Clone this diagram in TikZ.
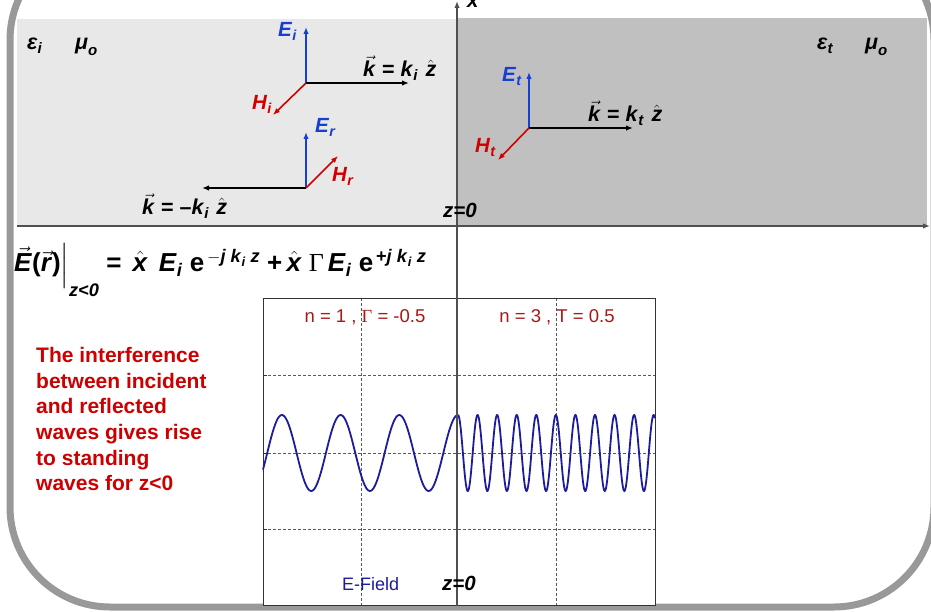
\documentclass[tikz,border=0pt]{standalone}
\usepackage{amsmath}
\usepackage{fontspec}
\setmainfont{Liberation Sans}
\newfontfamily\serifg{Liberation Serif}
\usetikzlibrary{arrows.meta}
\definecolor{frameg}{HTML}{999999}
\definecolor{lightband}{HTML}{E8E8E8}
\definecolor{darkband}{HTML}{C0C0C0}
\definecolor{eblue}{HTML}{1740D0}
\definecolor{hred}{HTML}{D00000}
\definecolor{txtred}{HTML}{CC0000}
\definecolor{plotred}{HTML}{A81818}
\definecolor{navyw}{HTML}{1C1C9C}
\definecolor{axisg}{HTML}{505050}
\newcommand\bi[1]{\textbf{\textit{#1}}}
\newcommand\mbi[1]{\text{\bi{#1}}}
\newcommand\beq{\text{\bfseries =}}
\newcommand\bplus{\text{\bfseries +}}
\begin{document}
\begin{tikzpicture}[x=1pt,y=-1pt,
  lbl/.style={inner sep=0pt, anchor=base west, font=\fontsize{20.5}{22}\selectfont},
  klbl/.style={inner sep=0pt, anchor=base west, font=\fontsize{21.5}{22}\selectfont},
  vecarrow/.style={line width=1.6pt, -{Latex[length=7pt,width=5.5pt]}},
  axisline/.style={axisg, line width=1.8pt, -{Latex[length=7pt,width=5.5pt]}},
  gridline/.style={black!65, line width=0.6pt, dash pattern=on 2.5pt off 2.5pt},
  plotlbl/.style={inner sep=0pt, anchor=base, font=\fontsize{18.5}{22}\selectfont}]
\useasboundingbox (0,0) rectangle (931,612);
\clip (0,0) rectangle (931,612);
% bands
\fill[lightband] (17,19) rectangle (457,226);
\fill[darkband] (457,18) rectangle (927,226);
% frame
\draw[frameg, line width=7pt, rounded corners=100pt] (10,-60) rectangle (934,607);
% plot box
\fill[white] (263,298) rectangle (655,605);
\foreach \yy in {375,453,529} {\draw[gridline] (263,\yy) -- (655,\yy);}
\foreach \xx in {361,556} {\draw[gridline] (\xx,298) -- (\xx,605);}
\foreach \yy in {375,453,529} {\draw[black!80, line width=0.8pt] (263,\yy) -- (267,\yy);}
\draw[black!80, line width=0.9pt] (263,298) rectangle (655,605);
\draw[navyw, line width=1.8pt, domain=263:458, samples=160, smooth] plot (\x, {453 - 38*cos(6.1329*(\x-458))});
\draw[navyw, line width=1.8pt, domain=458:655, samples=400, smooth] plot (\x, {453 - 38*cos(18.3955*(\x-458))});
% axes
\coordinate (hl) at (17,226);
\coordinate (hr) at (930,226);
\coordinate (vb) at (457,606);
\coordinate (vt) at (457,1);
\draw[axisline] (hl) -- (hr);
\draw[axisline] (vb) -- (vt);
\node[lbl] (xlab) at (467,8) {\bi{x}};
\node[lbl] (z0top) at (443,218) {\bi{z=0}};
\node[lbl] (z0bot) at (442,590) {\bi{z=0}};
% media labels
\node[klbl] (epsi) at (27,50) {$\mbi{ε}_{\mbi{i}}$};
\node[klbl] (mui) at (75,50) {$\mbi{μ}_{\mbi{o}}$};
\node[klbl] (epst) at (817,50) {$\mbi{ε}_{\mbi{t}}$};
\node[klbl] (mut) at (865,50) {$\mbi{μ}_{\mbi{o}}$};
% incident triad
\coordinate (oi) at (306,83);
\coordinate (ei) at (306,27);
\coordinate (ki) at (409,83);
\coordinate (hi) at (273,115);
\draw[vecarrow, eblue] (oi) -- (ei);
\draw[vecarrow, black] (oi) -- (ki);
\draw[vecarrow, hred] (oi) -- (hi);
\node[lbl, text=eblue] (eil) at (278,37) {$\mbi{E}_{\mbi{i}}$};
\node[klbl] (kil) at (363,77) {$\vec{\mbi{k}}$ \textbf{=} $\mbi{k}_{\mbi{i}}$\,\,$\hat{\mbi{z}}$};
\node[lbl, text=hred] (hil) at (252,110) {$\mbi{H}_{\mbi{i}}$};
% reflected triad
\coordinate (or) at (306,188);
\coordinate (er) at (306,132);
\coordinate (kr) at (202,188);
\coordinate (hr2) at (338,156);
\draw[vecarrow, eblue] (or) -- (er);
\draw[vecarrow, black] (or) -- (kr);
\draw[vecarrow, hred] (or) -- (hr2);
\node[lbl, text=eblue] (erl) at (315,133) {$\mbi{E}_{\mbi{r}}$};
\node[lbl, text=hred] (hrl) at (332,182) {$\mbi{H}_{\mbi{r}}$};
\node[klbl] (krl) at (142,215) {$\vec{\mbi{k}}$ \textbf{=} \textbf{–}$\mbi{k}_{\mbi{i}}$\,\,$\hat{\mbi{z}}$};
% transmitted triad
\coordinate (ot) at (529,128);
\coordinate (et) at (529,72);
\coordinate (kt) at (633,128);
\coordinate (ht) at (498,160);
\draw[vecarrow, eblue] (ot) -- (et);
\draw[vecarrow, black] (ot) -- (kt);
\draw[vecarrow, hred] (ot) -- (ht);
\node[lbl, text=eblue] (etl) at (502,82) {$\mbi{E}_{\mbi{t}}$};
\node[klbl] (ktl) at (588,122) {$\vec{\mbi{k}}$ \textbf{=} $\mbi{k}_{\mbi{t}}$\,\,$\hat{\mbi{z}}$};
\node[lbl, text=hred] (htl) at (475,153) {$\mbi{H}_{\mbi{t}}$};
% equation
\node[inner sep=0pt, anchor=base west, font=\fontsize{26}{30}\selectfont] (eq) at (14,272)
 {$\vec{\mbi{E}}\text{\bfseries(}\vec{\mbi{r}}\text{\bfseries)}\Big|_{\text{\raisebox{-7pt}{\bi{z<0}}}}\;\beq\;\,\hat{\mbi{x}}\;\,\mbi{E}_{\mbi{i}}\;\text{\bfseries e}^{\,-\mbi{j}\;\mbi{k}_{\mbi{i}}\;\mbi{z}}\;\bplus\,\hat{\mbi{x}}\;\text{\serifg Γ}\,\mbi{E}_{\mbi{i}}\;\text{\bfseries e}^{\,\text{\bfseries +}\mbi{j}\;\mbi{k}_{\mbi{i}}\;\mbi{z}}$};
% red paragraph
\node[inner sep=0pt, anchor=north west, align=left, text=txtred, font=\fontsize{21}{25.7}\selectfont\bfseries] (para) at (36,347)
 {The interference\\between incident\\and reflected\\waves gives rise\\to standing\\waves for z<0};
% plot labels
\node[plotlbl, text=plotred] (n1) at (365,322) {n = 1 , {\serifg Γ} = -0.5};
\node[plotlbl, text=plotred] (n3) at (557,322) {n = 3 , T = 0.5};
\node[plotlbl, anchor=base west, font=\fontsize{18}{22}\selectfont, text=navyw] (ef) at (342,590) {E-Field};
\end{tikzpicture}
\end{document}
